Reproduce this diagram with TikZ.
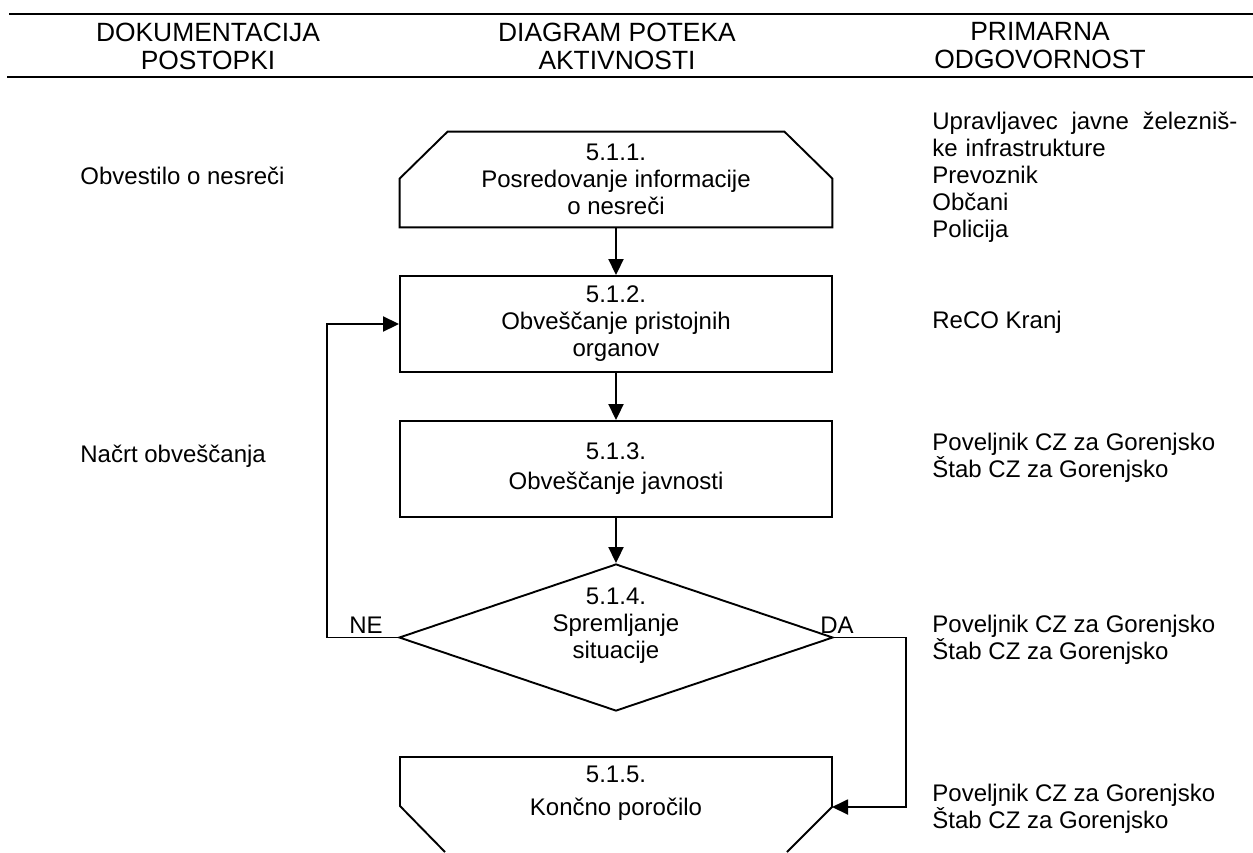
\documentclass[tikz,border=0pt]{standalone}
\usepackage{fontspec}
\setmainfont{Liberation Sans}
\usetikzlibrary{calc}
\usetikzlibrary{shapes}
\usetikzlibrary{arrows.meta}

\begin{document}
\begin{tikzpicture}[x=0.5pt, y=-0.5pt, font=\fontsize{12pt}{13.5pt}\selectfont,
  box/.style={rectangle, minimum width=216pt, minimum height=48pt, align=center, inner sep=0pt},
  line/.style={line width=0.95pt},
  flow/.style={line width=0.95pt, -{Triangle[length=8pt, width=7.5pt]}},
  head/.style={align=center, font=\fontsize{13.2pt}{14pt}\selectfont},
  col/.style={align=left, anchor=west, inner sep=0pt}]
\useasboundingbox (0,0) rectangle (1253,852);
\draw[line width=1.4pt] (9,14) -- (1253,14);
\draw[line width=1.4pt] (7,77) -- (1253,77);
\node[name=h1, head] at (208,46) {DOKUMENTACIJA\\POSTOPKI};
\node[name=h2, head] at (617,46) {DIAGRAM POTEKA\\AKTIVNOSTI};
\node[name=h3, head] at (1040,46) {PRIMARNA\\ODGOVORNOST};

\node[name=b1, box, minimum height=47.5pt] at (616,179.5) {5.1.1.\\Posredovanje informacije\\o nesreči};
\draw[line] (b1.south west) -- ($(b1.north west)+(0,47)$) -- ($(b1.north west)+(48,0)$)
  -- ($(b1.north east)+(-48,0)$) -- ($(b1.north east)+(0,47)$) -- (b1.south east) -- cycle;
\node[name=b2, box, draw, line] at (616,324) {5.1.2.\\Obveščanje pristojnih\\organov};
\node[name=b3, box, draw, line] at (616,469) {5.1.3.\\[1.5pt]Obveščanje javnosti};
\node[name=d, diamond, draw, line, minimum width=217pt, minimum height=73.5pt, inner sep=0pt] at (616,637.5) {};
\node[name=t4, align=center] at (616,626) {5.1.4.\\Spremljanje\\situacije};
\node[name=ne] at (366,625) {NE};
\node[name=da] at (837,625) {DA};
\node[name=b5, align=center] at (616,793.5) {5.1.5.\\[3pt]Končno poročilo};
\coordinate (b5in) at (832,807);
\draw[line] (445,852) -- (400,806) -- (400,757) -- (832,757) -- (b5in) -- (787,852);

\draw[flow] (b1.south) -- (b2.north);
\draw[flow] (b2.south) -- (b3.north);
\draw[flow] (b3.south) -- (d.north);
\draw[flow] (d.west) -- ++(-71,0) |- (b2.west);
\draw[flow] (d.east) -- ++(72,0) |- (b5in);

\node[name=l1, col] at (80,176) {Obvestilo o nesreči};
\node[name=l2, col] at (80,456) {Načrt obveščanja};
\node[name=r1, col, text width=152.5pt] at (932,177.5) {Upravljavec\hfill javne\hfill železniš-\\ke infrastrukture\\Prevoznik\\Občani\\Policija};
\node[name=r2, col] at (932,322) {ReCO Kranj};
\node[name=r3, col] at (932,458) {Poveljnik CZ za Gorenjsko\\Štab CZ za Gorenjsko};
\node[name=r4, col] at (932,640) {Poveljnik CZ za Gorenjsko\\Štab CZ za Gorenjsko};
\node[name=r5, col] at (932,808.5) {Poveljnik CZ za Gorenjsko\\Štab CZ za Gorenjsko};
\end{tikzpicture}
\end{document}
